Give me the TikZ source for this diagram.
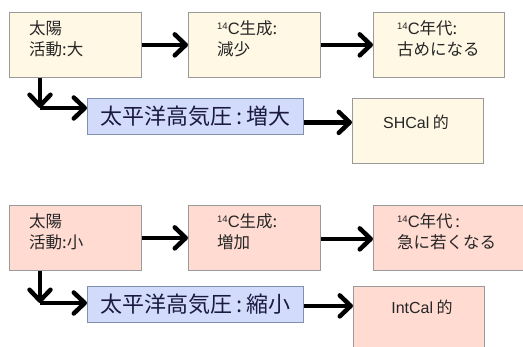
\documentclass[tikz,border=0pt]{standalone}
\usepackage{fontspec}
\setmainfont{Noto Sans CJK JP}
\newfontfamily\lat{Liberation Sans}
\usetikzlibrary{arrows.meta}
\definecolor{cream}{HTML}{FFF8E4}
\definecolor{pinkf}{HTML}{FFDBD2}
\definecolor{bluef}{HTML}{D3DBFB}
\definecolor{boxline}{HTML}{9A9A9A}
\definecolor{blueline}{HTML}{8090B0}
\definecolor{txtc}{HTML}{262626}
\definecolor{navy}{HTML}{1A1A40}
\newcommand\fourteenC{{\lat\raisebox{5pt}{\fontsize{9.5}{9.5}\selectfont 14}C}}
\tikzset{
 box/.style={draw=boxline, line width=0.8pt, anchor=north west, inner sep=0pt},
 creambox/.style={box, fill=cream, minimum width=132pt, minimum height=65pt},
 pinkbox/.style={box, fill=pinkf, minimum width=132pt, minimum height=65pt},
 bluebox/.style={draw=blueline, line width=0.8pt, fill=bluef, anchor=north west, inner sep=0pt,
   minimum width=216pt, minimum height=36pt, text=navy, font=\fontsize{22}{22}\selectfont},
 txt/.style={anchor=west, inner sep=0pt, align=left, text=txtc, font=\fontsize{16.5}{21}\selectfont},
 lattxt/.style={inner sep=0pt, text=txtc, font=\fontsize{16}{16}\selectfont},
 arr/.style={line width=4.5pt, -{Straight Barb[length=11pt,width=21pt,round]}},
}
\begin{document}
\begin{tikzpicture}[x=1pt,y=-1pt]
\useasboundingbox (0,0) rectangle (523,347);
\clip (0,0) rectangle (523,347);
% ---------- top row (solar activity high) ----------
\node[creambox] (a1) at (9,12) {};
\node[creambox] (b1) at (188,12) {};
\node[creambox, minimum width=131pt] (c1) at (373,12) {};
\node[bluebox] (d1) at (87,98) {太平洋高気圧\,:\,増大};
\node[creambox, minimum width=131pt] (e1) at (352,98) {};
\node[txt] (a1t) at (29,39) {太陽\\活動:大};
\node[txt] (b1t) at (217,39) {\fourteenC 生成:\\減少};
\node[txt] (c1t) at (397,39) {\fourteenC 年代:\\古めになる};
\node[lattxt] (e1t) at (416,122) {{\lat SHCal} 的};
\coordinate (k1) at (40,108);
\draw[arr] (a1) -- (b1);
\draw[arr] (b1) -- (c1);
\draw[arr] (a1.south -| k1) -- (k1);
\draw[arr] (k1) -- (k1 -| d1.west);
\draw[arr] ([yshift=-6pt]d1.east) -- ([yshift=-6pt]d1.east -| e1.west);
% ---------- bottom row (solar activity low) ----------
\node[pinkbox] (a2) at (9,205) {};
\node[pinkbox] (b2) at (188,205) {};
\node[pinkbox, minimum width=160pt] (c2) at (373,205) {};
\node[bluebox] (d2) at (87,286) {太平洋高気圧\,:\,縮小};
\node[pinkbox, minimum width=131pt, minimum height=70pt] (e2) at (353,286) {};
\node[txt] (a2t) at (29,232) {太陽\\活動:小};
\node[txt] (b2t) at (217,232) {\fourteenC 生成:\\増加};
\node[txt] (c2t) at (397,232) {\fourteenC 年代\,:\\急に若くなる};
\node[lattxt] (e2t) at (422,307) {{\lat IntCal} 的};
\coordinate (k2) at (40,303);
\draw[arr] (a2) -- (b2);
\draw[arr] ([yshift=-1pt]b2.east) -- ([yshift=-1pt]b2.east -| c2.west);
\draw[arr] (a2.south -| k2) -- (k2);
\draw[arr] (k2) -- (k2 -| d2.west);
\draw[arr] ([yshift=-1.5pt]d2.east) -- ([yshift=-1.5pt]d2.east -| e2.west);
\end{tikzpicture}
\end{document}
